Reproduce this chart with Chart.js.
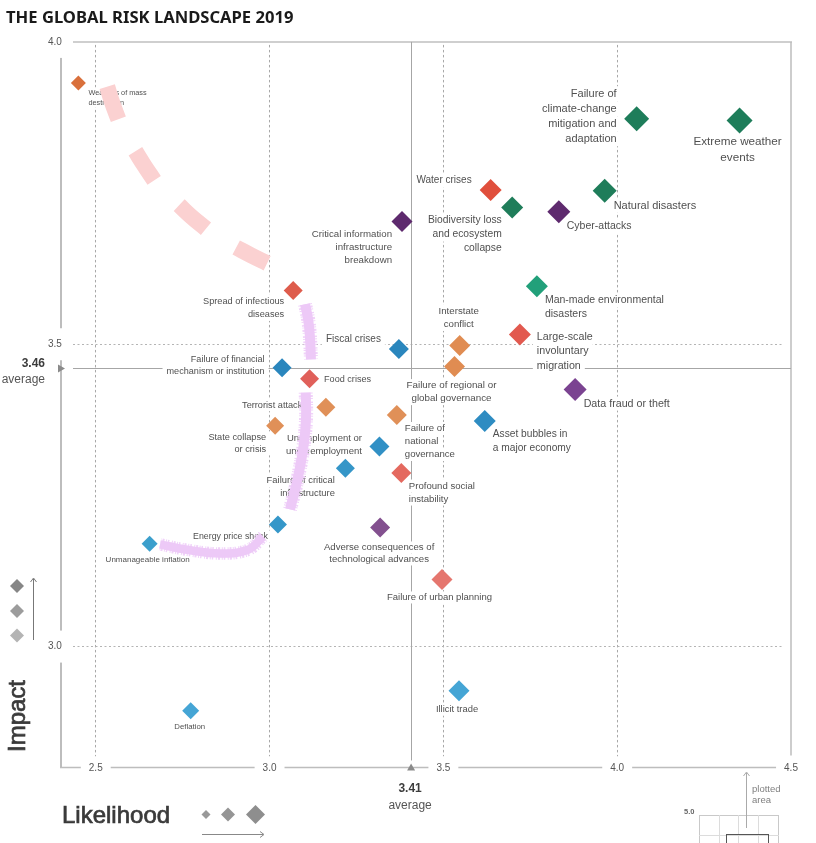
<!DOCTYPE html>
<html><head><meta charset="utf-8">
<style>html,body{margin:0;padding:0;background:#fff}canvas{display:block}</style>
<script src="https://cdn.jsdelivr.net/npm/chart.js@4/dist/chart.umd.js"></script>
</head><body><canvas id="c" width="816" height="843"></canvas>
<script>
const risks=["Extreme weather\nevents","Failure of\nclimate-change\nmitigation and\nadaptation","Natural disasters","Water crises","Biodiversity loss\nand ecosystem\ncollapse","Cyber-attacks","Critical information\ninfrastructure\nbreakdown","Man-made environmental\ndisasters","Large-scale\ninvoluntary\nmigration","Interstate\nconflict","Failure of regional or\nglobal governance","Fiscal crises","Spread of infectious\ndiseases","Failure of financial\nmechanism or institution","Food crises","Terrorist attacks","Failure of\nnational\ngovernance","State collapse\nor crisis","Data fraud or theft","Asset bubbles in\na major economy","Unemployment or\nunderemployment","Failure of critical\ninfrastructure","Profound social\ninstability","Energy price shock","Adverse consequences of\ntechnological advances","Unmanageable inflation","Failure of urban planning","Illicit trade","Deflation","Weapons of mass\ndestruction"];
const likelihood=[4.352,4.056,3.964,3.636,3.698,3.832,3.381,3.769,3.720,3.547,3.532,3.372,3.068,3.036,3.115,3.162,3.366,3.016,3.879,3.619,3.316,3.218,3.379,3.024,3.318,2.655,3.496,3.545,2.773,2.450];
const impact=[3.870,3.873,3.754,3.755,3.726,3.719,3.703,3.596,3.516,3.498,3.463,3.492,3.589,3.461,3.443,3.396,3.383,3.365,3.425,3.373,3.331,3.295,3.287,3.202,3.197,3.170,3.111,2.927,2.894,3.932];
const xTicks=[2.5,3.0,3.5,4.0,4.5];
const yTicks=[3.0,3.5,4.0];
const averageLikelihood=3.41;
const averageImpact=3.46;
const pinkX=[[2.533,2.547,2.565],[2.614,2.639,2.668],[2.740,2.777,2.817],[2.904,2.947,2.993]];
const pinkY=[[3.926,3.900,3.872],[3.819,3.796,3.771],[3.730,3.710,3.691],[3.660,3.647,3.634]];
const lilacX=[[3.102,3.111,3.116,3.119],[3.104,3.105,3.099,3.082,3.059],[2.981,2.938,2.858,2.763,2.685]];
const lilacY=[[3.566,3.541,3.513,3.475],[3.420,3.380,3.337,3.281,3.227],[3.182,3.160,3.154,3.160,3.169]];

const markerColors=["#1e7d5a","#1e7d5a","#1f7d5a","#e04f3c","#1f7d5a","#5e2a6e","#5e2a6e","#22a07a","#e2594f","#e08c52","#e08c52","#2a86bd","#de5c4c","#2a86bd","#e0605a","#e09058","#e09058","#e09058","#7b4391","#2e8cc2","#3190c5","#3596c8","#e4695f","#3597c9","#83508f","#3b9fcc","#e5766e","#45a5d5","#45a5d5","#d9703c"];
const markerRadii=[13,12.5,12,11,11,11.5,10.5,11,11,10.5,10.5,10,9.5,9.5,9.5,9.5,10,9,11.5,11,10,9.5,10,9,10,8,10.5,10.5,8.5,7.5];
const labelAlign=["center","right","left","right","right","left","right","left","left","center","center","right","right","right","left","right","left","right","left","left","right","right","left","right","center","center","center","center","center","left"];
const labelDx=[-2,-20,9,-19,-10.5,8,-10,8,17,-1,-3,-18,-9,-17.5,14.5,-19,8,-9,8.5,8,-17.5,-10.5,7.5,-10,-1,-2,-2.5,-2,-1,10];
const labelDy=[21,-25,15,-9.5,13,14.5,12.5,14,2,-34,19,-10,11,-8,1,-2,13.5,11.5,14,13.5,-8,12.5,13,12,20,16,18,19,16,9.5];
const labelSize=[11.7,11,11,10,10.3,10.5,9.7,10.5,10.7,9.7,9.8,10,9.2,9.1,9.1,9.2,9.6,9.2,10.7,10.2,9.5,9.4,9.6,8.8,9.6,8,9.5,9.4,7.8,7.3];
const labelLeading=[16,15,14,14,14,14,13.2,14,14.5,13,13,13,13,12,12,12,13,12,14,14,13,13,13,12,12,11,12,12,11,10];

const FONT='"Liberation Sans", Arial, sans-serif';

function line(ctx,x1,y1,x2,y2,color,w,dash){ctx.save();ctx.strokeStyle=color;ctx.lineWidth=w;ctx.setLineDash(dash||[]);ctx.beginPath();ctx.moveTo(x1,y1);ctx.lineTo(x2,y2);ctx.stroke();ctx.restore();}
function diamond(ctx,x,y,r,color){ctx.fillStyle=color;ctx.beginPath();ctx.moveTo(x,y-r);ctx.lineTo(x+r,y);ctx.lineTo(x,y+r);ctx.lineTo(x-r,y);ctx.closePath();ctx.fill();}
function tri(ctx,pts,color){ctx.fillStyle=color;ctx.beginPath();pts.forEach((p,i)=>i?ctx.lineTo(p[0],p[1]):ctx.moveTo(p[0],p[1]));ctx.closePath();ctx.fill();}
function arrowHead(ctx,x,y,dx,dy,color){ctx.save();ctx.strokeStyle=color;ctx.lineWidth=1;ctx.beginPath();ctx.moveTo(x+dx*4+dy*3,y+dy*4+dx*3);ctx.lineTo(x,y);ctx.lineTo(x+dx*4-dy*3,y+dy*4-dx*3);ctx.stroke();ctx.restore();}
function text(ctx,s,x,y,font,color,align){ctx.font=font;ctx.fillStyle=color;ctx.textAlign=align||'left';ctx.textBaseline='middle';ctx.fillText(s,x,y);}

const framePlugin={id:'frame',beforeDraw(chart){
  const {ctx,chartArea:a,scales:{x,y}}=chart;
  line(ctx,a.left+12,a.top,a.right+1,a.top,'#cfcfcf',2);
  line(ctx,a.right,a.top,a.right,a.bottom-12,'#bdbdbd',1.5);
  line(ctx,a.left,a.top+11,a.left,a.bottom,'#bdbdbd',2);
  line(ctx,a.left-1,a.bottom,a.right-14,a.bottom,'#bdbdbd',1.5);
  xTicks.slice(0,4).forEach(v=>{const p=Math.floor(x.getPixelForValue(v))+.5;line(ctx,p,a.top+3,p,a.bottom-11,'#a8a8a8',1,[2.5,2.5]);});
  yTicks.slice(0,2).forEach(v=>{const p=Math.floor(y.getPixelForValue(v))+.5;line(ctx,a.left+12,p,a.right-9,p,'#b4b4b4',1,[2,2.5]);});
  const ax=Math.floor(x.getPixelForValue(averageLikelihood))-.5, ay=Math.floor(y.getPixelForValue(averageImpact))+.5;
  line(ctx,ax,a.top,ax,a.bottom-7,'#a6a6a6',1);
  line(ctx,a.left+12,ay,a.right,ay,'#a6a6a6',1);
}};
const labelPlugin={id:'labels',beforeDatasetsDraw(chart){
  const {ctx,scales:{x,y}}=chart;
  const items=[];
  risks.forEach((r,i)=>{
    const px=x.getPixelForValue(likelihood[i])+labelDx[i], py=y.getPixelForValue(impact[i])+labelDy[i];
    r.split('\n').forEach((t,k)=>items.push({t,px,py:py+k*labelLeading[i],size:labelSize[i],align:labelAlign[i],lh:labelLeading[i]}));
  });
  ctx.save();
  items.forEach(it=>{ctx.font=it.size+'px '+FONT;const w=ctx.measureText(it.t).width;
    const l=it.align==='left'?it.px:it.align==='right'?it.px-w:it.px-w/2;
    ctx.fillStyle='#fff';ctx.fillRect(l-4,it.py-it.lh/2,w+8,it.lh);});
  items.forEach(it=>text(ctx,it.t,it.px,it.py,it.size+'px '+FONT,'#505050',it.align));
  ctx.restore();
}};
const annotationPlugin={id:'annotations',afterDraw(chart){
  const {ctx,chartArea:a,scales:{x,y}}=chart;
  ctx.save();
  const ax=x.getPixelForValue(averageLikelihood)-1, ay=y.getPixelForValue(averageImpact);
  tri(ctx,[[a.left-3,ay-4],[a.left+4,ay],[a.left-3,ay+4]],'#8a8a8a');
  tri(ctx,[[ax-4,a.bottom+3],[ax,a.bottom-4],[ax+4,a.bottom+3]],'#8a8a8a');
  text(ctx,averageImpact.toFixed(2),a.left-16,ay-5,'bold 12px '+FONT,'#3c3c3c','right');
  text(ctx,'average',a.left-16,ay+11,'12px '+FONT,'#555','right');
  text(ctx,averageLikelihood.toFixed(2),ax-1,a.bottom+21,'bold 12px '+FONT,'#3c3c3c','center');
  text(ctx,'average',ax-1,a.bottom+38,'12px '+FONT,'#555','center');
  // Axis names
  ctx.save();ctx.translate(25,716);ctx.rotate(-Math.PI/2);ctx.font='24px '+FONT;ctx.fillStyle='#3a3a3a';ctx.strokeStyle='#3a3a3a';ctx.lineWidth=.7;ctx.textAlign='center';ctx.textBaseline='alphabetic';ctx.fillText('Impact',0,0);ctx.strokeText('Impact',0,0);ctx.restore();
  ctx.font='24px '+FONT;ctx.fillStyle='#3a3a3a';ctx.strokeStyle='#3a3a3a';ctx.lineWidth=.7;ctx.textAlign='left';ctx.textBaseline='alphabetic';ctx.fillText('Likelihood',62,823);ctx.strokeText('Likelihood',62,823);
  // Size keys
  diamond(ctx,17,586,7,'#868686');diamond(ctx,17,611,7,'#9c9c9c');diamond(ctx,17,635.5,7,'#b4b4b4');
  line(ctx,33.5,640,33.5,579,'#777',1);arrowHead(ctx,33.5,578,0,1,'#777');
  diamond(ctx,206,814.5,4.5,'#999');diamond(ctx,228,814.5,7,'#959595');diamond(ctx,255.5,814.5,9.5,'#8e8e8e');
  line(ctx,202,834.5,263,834.5,'#888',1);arrowHead(ctx,264,834.5,-1,0,'#888');
  // Plotted-area inset
  const c='#c9c9c9';
  line(ctx,699.5,815.5,778,815.5,c,1);line(ctx,699.5,815,699.5,843,c,1);line(ctx,778.5,815,778.5,843,c,1);
  [719.5,738.5,758.5].forEach(p=>line(ctx,p,815,p,843,'#dcdcdc',1));
  line(ctx,699,835.5,779,835.5,'#dcdcdc',1);
  line(ctx,726.5,843,726.5,834.5,'#555',1);line(ctx,726,834.5,768.5,834.5,'#555',1);line(ctx,768.5,834,768.5,843,'#555',1);
  line(ctx,746.5,828,746.5,773,'#aaa',1);arrowHead(ctx,746.5,772,0,1,'#aaa');
  text(ctx,'plotted',752,789,'9.5px '+FONT,'#808080');
  text(ctx,'area',752,800,'9.5px '+FONT,'#808080');
  text(ctx,'5.0',684,812,'bold 7.5px '+FONT,'#666');
  ctx.restore();
}};

const toPts=(xs,ys)=>xs.map((v,i)=>({x:v,y:ys[i]}));
const stroke=(xs,ys,color,w,dash)=>({type:'scatter',showLine:true,tension:.4,order:0,pointRadius:0,borderColor:color,borderWidth:w,borderCapStyle:'butt',borderDash:dash||[],data:toPts(xs,ys)});
const datasets=[{label:'Global risks',order:1,data:toPts(likelihood,impact),pointStyle:'rectRot',pointRadius:markerRadii,pointHoverRadius:markerRadii,pointBackgroundColor:markerColors,pointBorderWidth:0,showLine:false}];
pinkX.forEach((xs,i)=>datasets.push(stroke(xs,pinkY[i],'#fbd1d1',16)));
lilacX.forEach((xs,i)=>{
  const w=i===2?8.5:10;
  datasets.push(stroke(xs,lilacY[i],'#edc9f7',w));
  datasets.push(stroke(xs,lilacY[i],'#f0d2f9',w+4,[1,1.5,2,1,1,2.5,1.5,1]));
});

const tickFont={family:FONT,size:10};
new Chart(document.getElementById('c'),{
  type:'scatter',
  data:{datasets},
  plugins:[framePlugin,labelPlugin,annotationPlugin],
  options:{
    responsive:false,animation:false,
    layout:{padding:{left:6,right:25,top:0,bottom:0}},
    plugins:{
      legend:{display:false},tooltip:{enabled:false},
      title:{display:true,text:'THE GLOBAL RISK LANDSCAPE 2019',align:'start',color:'#1a1a1a',
        font:{family:'"Noto Sans"',weight:'bold',size:16.6,lineHeight:1.2},padding:{top:8,bottom:14}}
    },
    scales:{
      x:{type:'linear',min:2.4,max:4.5,afterFit(s){s.height=75.5;},
        grid:{display:false,drawTicks:false},border:{display:false},
        ticks:{stepSize:.5,includeBounds:false,font:tickFont,color:'#555',padding:-7,mirror:true,maxRotation:0,
          callback:v=>xTicks.includes(+v.toFixed(1))?v.toFixed(1):'',
          showLabelBackdrop:true,backdropColor:'#fff',backdropPadding:{top:6,bottom:6,left:8,right:8}}},
      y:{type:'linear',min:2.8,max:4.0,afterFit(s){s.width=55;},
        grid:{display:false,drawTicks:false},border:{display:false},
        ticks:{stepSize:.5,includeBounds:false,font:tickFont,color:'#555',padding:-13,mirror:true,
          callback:v=>yTicks.includes(+v.toFixed(1))?v.toFixed(1):'',
          showLabelBackdrop:true,backdropColor:'#fff',backdropPadding:{top:10,bottom:10,left:4,right:4}}}
    }
  }
});
</script></body></html>
